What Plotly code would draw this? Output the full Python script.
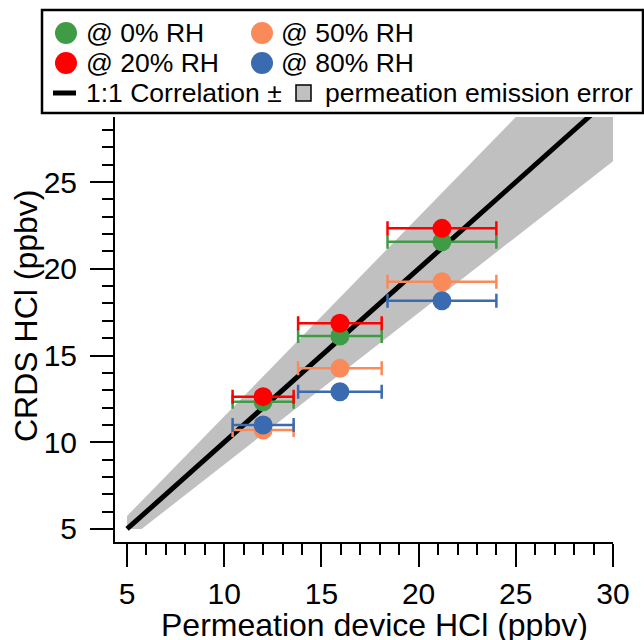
import plotly.graph_objects as go

# ---- data ----
perm_x = [12.0, 15.95, 21.2]
perm_err = [1.57, 2.15, 2.8]
rh0 = [12.34, 16.12, 21.56]
rh20 = [12.63, 16.86, 22.33]
rh50 = [10.71, 14.26, 19.25]
rh80 = [11.0, 12.91, 18.16]

line_x = [5, 30]
line_y = [5, 30]
band_x = [5, 30, 30, 5.75, 5]
band_y = [5.75, 34.5, 26.2, 5, 5]

x_ticks = [5, 10, 15, 20, 25, 30]
y_ticks = [5, 10, 15, 20, 25]

x_title = "Permeation device HCl (ppbv)"
y_title = "CRDS HCl (ppbv)"

GREEN = "#3f9b45"
RED = "#ff0000"
ORANGE = "#fb8a5a"
BLUE = "#3a6bb0"
GREY = "#c0c0c0"
FONT = "Liberation Sans, Arial, sans-serif"

W, H = 644, 640
L, R, T, B = 115, 613, 117, 542


def px(x):
    return (x - L) / (R - L)


def py(y):
    return (B - y) / (B - T)


fig = go.Figure()

fig.add_trace(go.Scatter(x=band_x, y=band_y, fill="toself", fillcolor=GREY,
                         line=dict(width=0), mode="lines", hoverinfo="skip"))
fig.add_trace(go.Scatter(x=line_x, y=line_y, mode="lines",
                         line=dict(color="black", width=5)))


def add_series(yv, color):
    fig.add_trace(go.Scatter(
        x=perm_x, y=yv, mode="markers",
        marker=dict(size=19, color=color, line=dict(width=0)),
        error_x=dict(type="data", array=perm_err, color=color,
                     thickness=2.5, width=7),
    ))


add_series(rh50, ORANGE)
add_series(rh0, GREEN)
add_series(rh80, BLUE)
add_series(rh20, RED)

axis_common = dict(
    showline=True, linecolor="black", linewidth=2,
    ticks="outside", ticklen=23, tickwidth=2, tickcolor="black",
    showgrid=False, zeroline=False,
    tickfont=dict(family=FONT, size=30, color="black"),
    minor=dict(ticks="outside", ticklen=11, tickwidth=2, tickcolor="black", dtick=1),
)

fig.update_xaxes(range=[4.38, 30], tickvals=x_ticks, ticklabelstandoff=1,
                 **axis_common)
fig.update_yaxes(range=[4.25, 28.75], tickvals=y_ticks, ticklabelstandoff=7,
                 **axis_common)

shapes = []
annotations = []

# axis titles
annotations.append(dict(xref="paper", yref="paper", x=px(374), y=py(625),
                        xanchor="center", yanchor="middle", showarrow=False,
                        text=x_title, font=dict(family=FONT, size=32, color="black")))
annotations.append(dict(xref="paper", yref="paper", x=px(26), y=py(316),
                        xanchor="center", yanchor="middle", showarrow=False,
                        textangle=-90,
                        text=y_title, font=dict(family=FONT, size=32, color="black")))

# legend box
shapes.append(dict(type="rect", xref="paper", yref="paper",
                   x0=px(42), x1=px(643), y0=py(113), y1=py(10),
                   line=dict(color="black", width=2.5), fillcolor="white"))


def legend_dot(cx, cy, color):
    shapes.append(dict(type="circle", xref="paper", yref="paper",
                       xsizemode="pixel", ysizemode="pixel",
                       xanchor=px(cx), yanchor=py(cy),
                       x0=-11, x1=11, y0=-11, y1=11,
                       fillcolor=color, line=dict(width=0)))


def legend_text(x, y, text):
    annotations.append(dict(xref="paper", yref="paper", x=px(x), y=py(y),
                            xanchor="left", yanchor="middle", showarrow=False,
                            text=text, font=dict(family=FONT, size=26.5, color="black")))


legend_dot(66, 33, GREEN)
legend_text(84, 33, "@ 0% RH")
legend_dot(262, 33, ORANGE)
legend_text(279, 33, "@ 50% RH")
legend_dot(66, 63, RED)
legend_text(84, 63, "@ 20% RH")
legend_dot(262, 63, BLUE)
legend_text(279, 63, "@ 80% RH")

shapes.append(dict(type="line", xref="paper", yref="paper",
                   x0=px(53), x1=px(76), y0=py(93), y1=py(93),
                   line=dict(color="black", width=5)))
legend_text(84, 93, "1:1 Correlation ±")
shapes.append(dict(type="rect", xref="paper", yref="paper",
                   x0=px(296), x1=px(311), y0=py(101), y1=py(85),
                   fillcolor=GREY, line=dict(color="black", width=1.5)))
legend_text(323, 93, "permeation emission error")

fig.update_layout(
    width=W, height=H,
    margin=dict(l=L, r=W - R, t=T, b=H - B, autoexpand=False),
    paper_bgcolor="white", plot_bgcolor="white",
    showlegend=False,
    shapes=shapes, annotations=annotations,
    font=dict(family=FONT, color="black"),
)

fig.write_html("out.html", config={"displayModeBar": False},
               post_script="document.body.style.margin='0px';")
